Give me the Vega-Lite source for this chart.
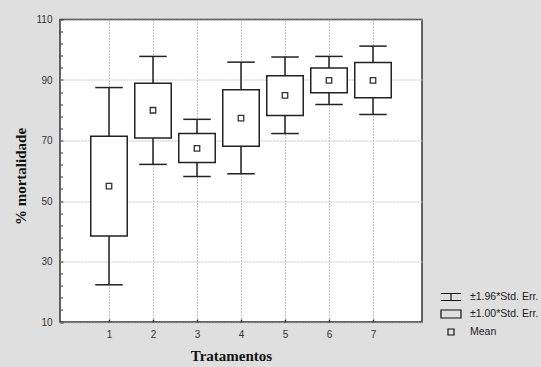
{
  "$schema": "https://vega.github.io/schema/vega-lite/v6.json",
  "width": 362,
  "height": 302.5,
  "autosize": "none",
  "padding": {"left": 60, "top": 19.5, "right": 119, "bottom": 45},
  "background": "#dfdfdf",
  "config": {
    "view": {"fill": "white", "stroke": "#333333", "strokeWidth": 1.5},
    "axis": {"labelFont": "Liberation Sans", "labelFontSize": 10, "labelColor": "#333333", "titleFont": "Liberation Serif", "titleFontSize": 15, "titleFontWeight": "bold", "titleColor": "#111111", "domain": false, "gridColor": "#c4c4c4", "gridDash": [2, 1], "gridWidth": 1, "tickColor": "#333333", "labelOverlap": false}
  },
  "resolve": {"axis": {"y": "independent"}},
  "datasets": {
    "stats": [
      {"trat": 1, "mean": 54.9, "lo1": 38.4, "hi1": 71.4, "lo196": 22.3, "hi196": 87.5},
      {"trat": 2, "mean": 80.0, "lo1": 70.8, "hi1": 88.9, "lo196": 62.1, "hi196": 97.8},
      {"trat": 3, "mean": 67.4, "lo1": 62.7, "hi1": 72.3, "lo196": 58.1, "hi196": 77.0},
      {"trat": 4, "mean": 77.4, "lo1": 68.1, "hi1": 86.8, "lo196": 59.0, "hi196": 95.9},
      {"trat": 5, "mean": 84.9, "lo1": 78.3, "hi1": 91.4, "lo196": 72.3, "hi196": 97.6},
      {"trat": 6, "mean": 89.9, "lo1": 85.8, "hi1": 94.0, "lo196": 81.9, "hi196": 97.8},
      {"trat": 7, "mean": 89.9, "lo1": 84.1, "hi1": 95.8, "lo196": 78.6, "hi196": 101.2}
    ],
    "legend": [
      {"item": "±1.96*Std. Err."},
      {"item": "±1.00*Std. Err."},
      {"item": "Mean"}
    ]
  },
  "layer": [
    {
      "data": {"name": "legend"},
      "mark": {"type": "point", "opacity": 0},
      "encoding": {
        "x": {"datum": 4, "type": "quantitative", "scale": {"domain": [0, 8], "nice": false, "zero": false}},
        "y": {"datum": 50, "type": "quantitative", "scale": {"domain": [10, 110], "nice": false, "zero": false},
          "axis": {"orient": "left", "values": [14, 18, 22, 26, 34, 38, 42, 46, 54, 58, 62, 66, 74, 78, 82, 86, 94, 98, 102, 106],
            "labels": false, "grid": false, "tickSize": -2.5, "tickWidth": 1, "title": null}},
        "shape": {"field": "item", "type": "nominal",
          "scale": {"domain": ["±1.96*Std. Err.", "±1.00*Std. Err.", "Mean"],
            "range": ["M-1.43,-0.5H1.43M0,-0.5V0.5M-1.43,0.5H1.43", "M-1.43,-0.57H1.43V0.57H-1.43Z", "M-0.43,-0.43H0.43V0.43H-0.43Z"]},
          "legend": {"title": null, "orient": "none", "legendX": 383, "legendY": 269.5, "padding": 0,
            "symbolSize": 196, "symbolStrokeWidth": 1.2, "symbolStrokeColor": "#111111", "symbolFillColor": "white", "symbolOpacity": 1,
            "labelFont": "Liberation Sans", "labelFontSize": 10.5, "labelColor": "#222222", "labelOffset": 11, "rowPadding": 3}}
      }
    },
    {
      "data": {"name": "stats"},
      "mark": {"type": "rule", "stroke": "#222222", "strokeWidth": 1.5},
      "encoding": {
        "x": {"field": "trat", "type": "quantitative",
          "axis": {"values": [1, 2, 3, 4, 5, 6, 7], "title": "Tratamentos", "grid": true, "tickSize": -3, "tickWidth": 1.5, "labelPadding": 10, "titleX": 171, "titleY": 38.5, "titleBaseline": "alphabetic"}},
        "y": {"field": "lo196", "type": "quantitative",
          "axis": {"orient": "left", "values": [10, 30, 50, 70, 90, 110],
            "grid": true, "tickSize": -3, "tickWidth": 1, "labelPadding": 11,
            "title": "% mortalidade", "titleX": -35, "titleY": 156.5, "titleBaseline": "alphabetic"}},
        "y2": {"field": "hi196"}
      }
    },
    {
      "data": {"name": "stats"},
      "mark": {"type": "tick", "orient": "horizontal", "size": 27.5, "thickness": 1.5, "color": "#222222", "opacity": 1},
      "encoding": {
        "x": {"field": "trat", "type": "quantitative"},
        "y": {"field": "lo196", "type": "quantitative", "axis": null}
      }
    },
    {
      "data": {"name": "stats"},
      "mark": {"type": "tick", "orient": "horizontal", "size": 27.5, "thickness": 1.5, "color": "#222222", "opacity": 1},
      "encoding": {
        "x": {"field": "trat", "type": "quantitative"},
        "y": {"field": "hi196", "type": "quantitative", "axis": null}
      }
    },
    {
      "data": {"name": "stats"},
      "mark": {"type": "bar", "size": 36.5, "fill": "white", "stroke": "#222222", "strokeWidth": 1.5},
      "encoding": {
        "x": {"field": "trat", "type": "quantitative"},
        "y": {"field": "lo1", "type": "quantitative", "axis": null},
        "y2": {"field": "hi1"}
      }
    },
    {
      "data": {"name": "stats"},
      "mark": {"type": "point", "shape": "square", "size": 30, "filled": true, "fill": "white", "stroke": "#333333", "strokeWidth": 1.3, "opacity": 1},
      "encoding": {
        "x": {"field": "trat", "type": "quantitative"},
        "y": {"field": "mean", "type": "quantitative", "axis": null}
      }
    }
  ]
}
